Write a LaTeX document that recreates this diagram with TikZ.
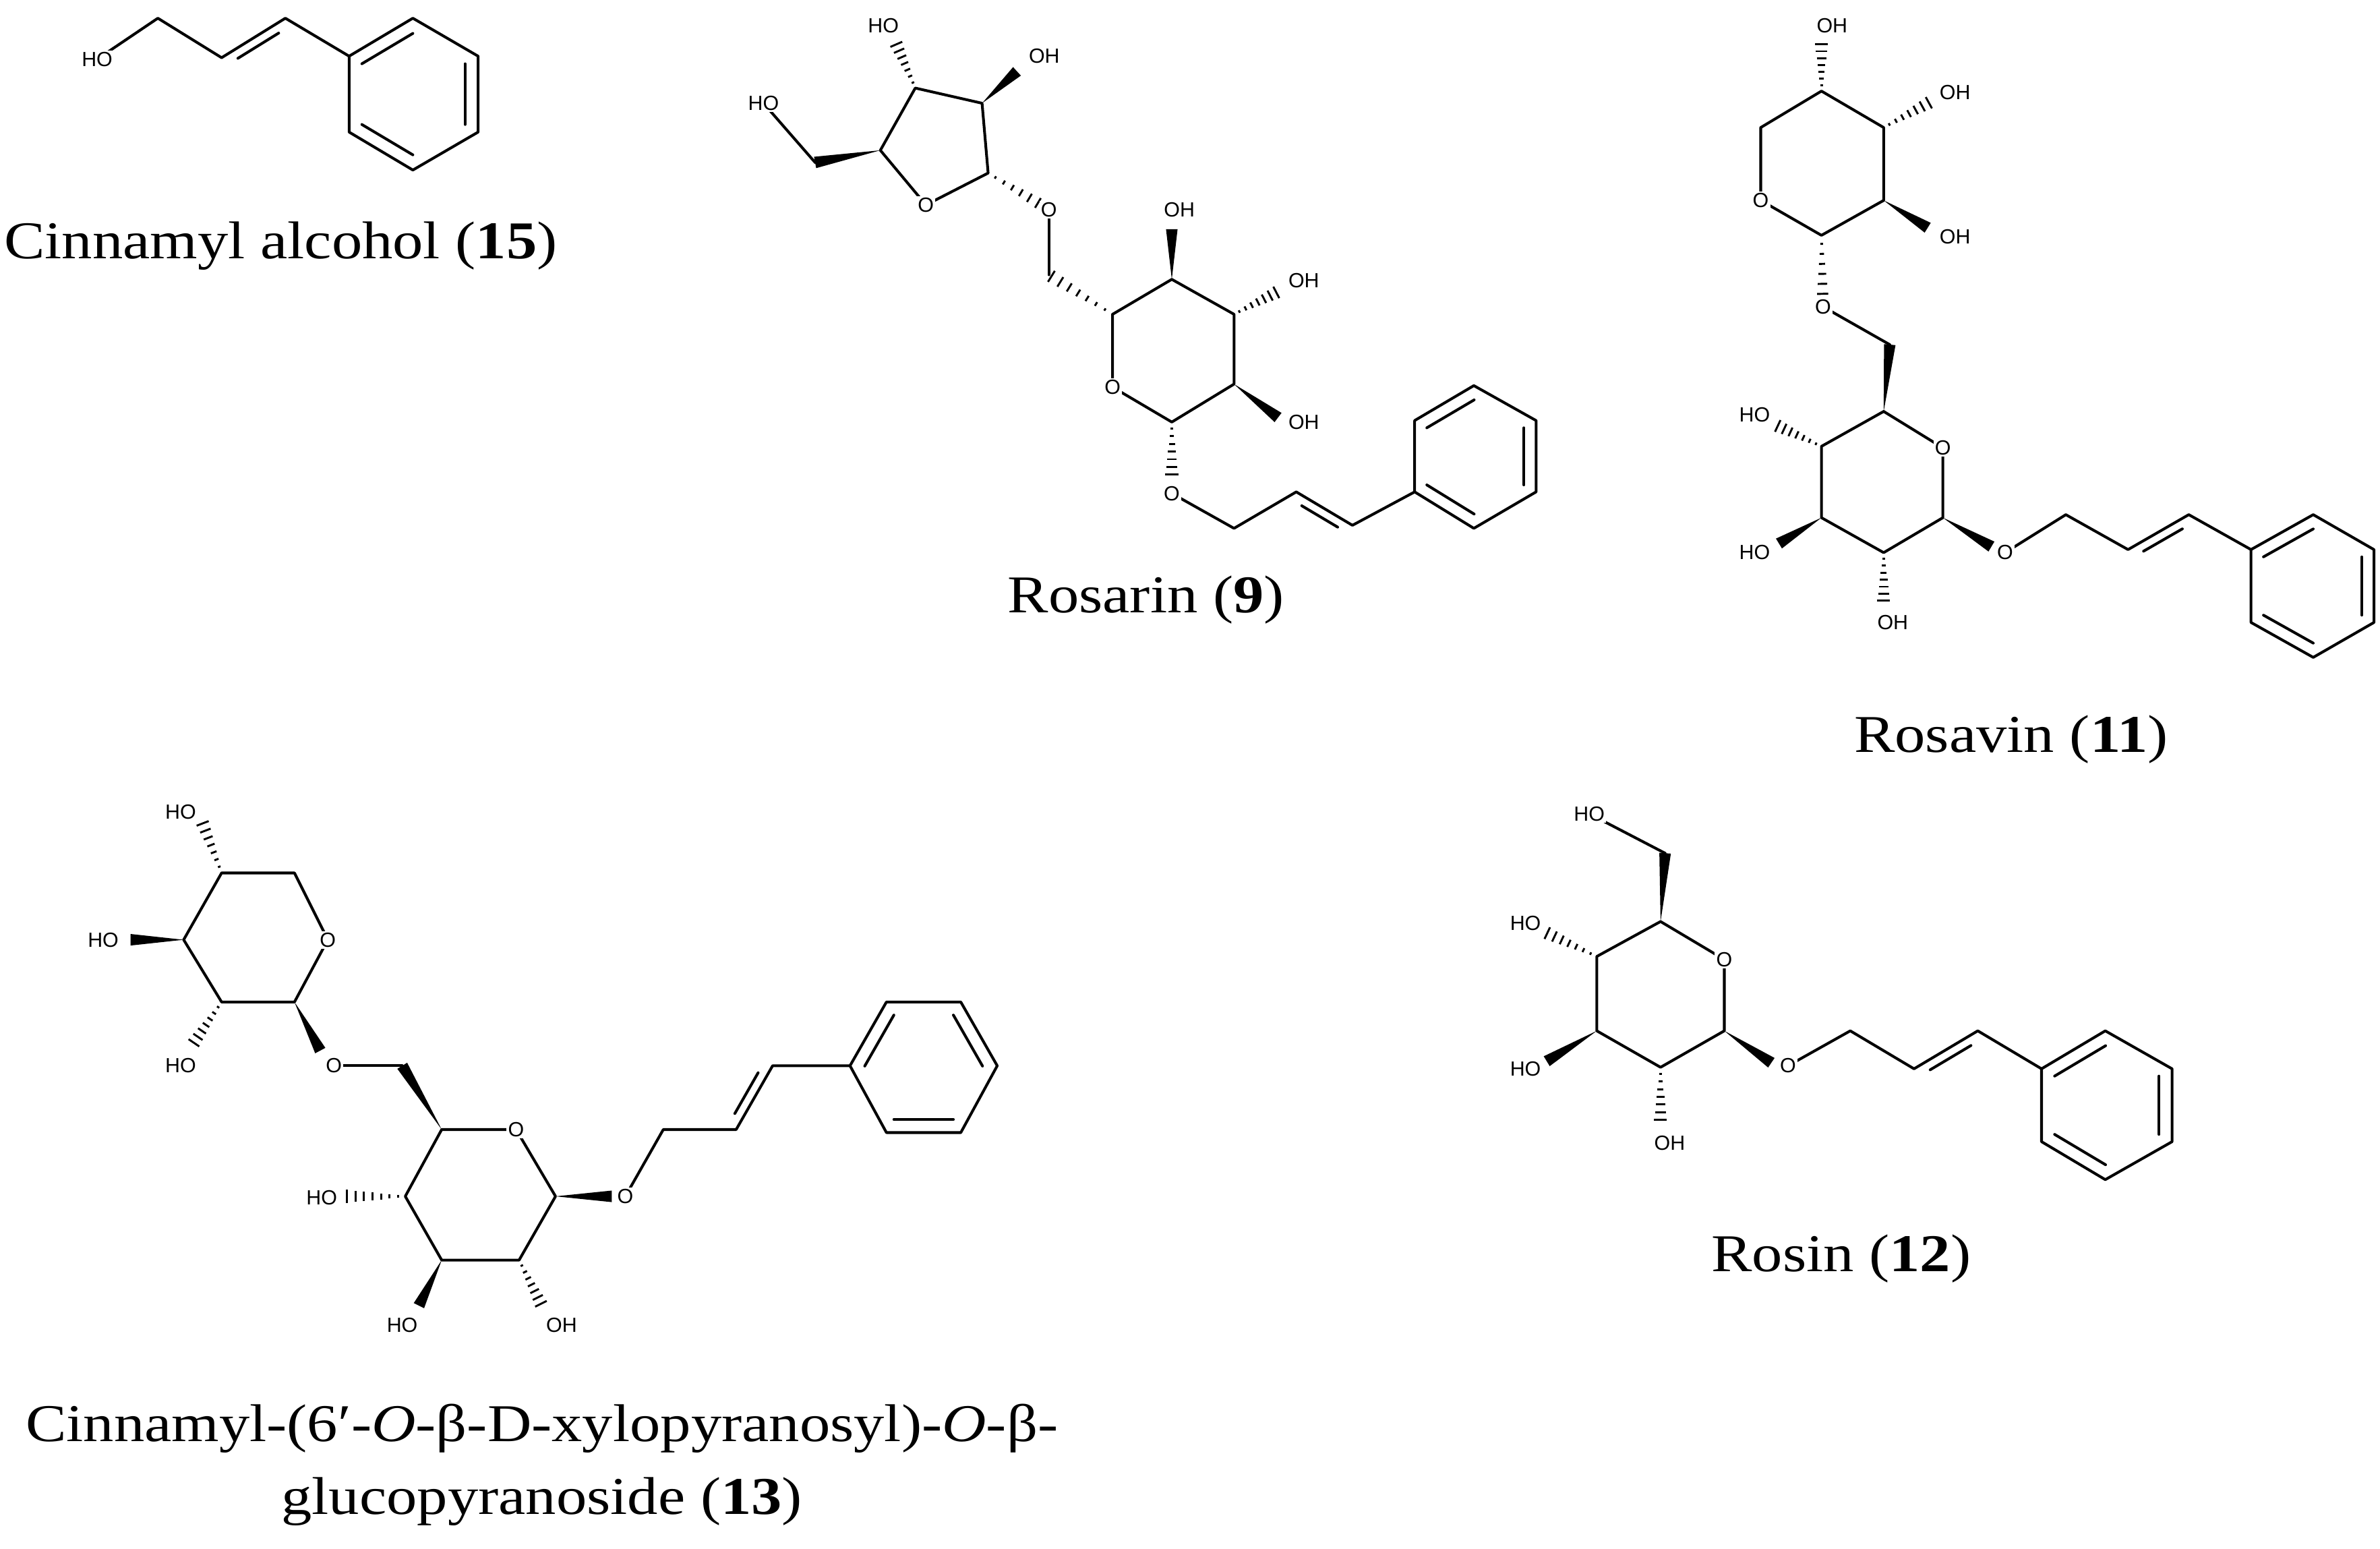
\documentclass[tikz,border=0pt]{standalone}
\usepackage{fontspec}
\setmainfont{Liberation Serif}
\newfontfamily\atomfont{Liberation Sans}
\newfontfamily\capfont[FakeStretch=1.15]{Liberation Serif}
\usetikzlibrary{calc}
\tikzset{
  bond/.style={line width=1.8pt,line cap=round,line join=round},
  atom/.style={font=\atomfont\fontsize{13.5}{13.5}\selectfont,fill=white,inner sep=1pt},
  caption/.style={font=\capfont\fontsize{35}{48}\selectfont,align=center}
}
\newcommand\bw[2]{\fill ($(#1)$) -- ($(#2)!3.8pt!90:(#1)$) -- ($(#2)!3.8pt!-90:(#1)$) -- cycle;}
\newcommand\hw[2]{\foreach \t in {0.12,0.26,0.40,0.54,0.68,0.82,0.96}{\pgfmathsetmacro\hl{4*\t+0.4}\draw[line width=1.3pt] ($(#1)!\t!(#2)!\hl pt!90:(#2)$) -- ($(#1)!\t!(#2)!\hl pt!-90:(#2)$);}}
\newcommand\rin[3]{\draw[bond] ($(#1)!0.2!(#3)$) -- ($(#2)!0.2!(#3)$);}
\newcommand\dbL[2]{\draw[bond] ($(#1)!0.18!(#2)!6pt!90:(#2)$) -- ($(#2)!0.18!(#1)!6pt!-90:(#1)$);}
\newcommand\dbR[2]{\draw[bond] ($(#1)!0.18!(#2)!6pt!-90:(#2)$) -- ($(#2)!0.18!(#1)!6pt!90:(#1)$);}
\begin{document}
\begin{tikzpicture}[x=1pt,y=-1pt]
\useasboundingbox (0,0) rectangle (1568,1020);
% ---------- Cinnamyl alcohol (15)
\coordinate (aO) at (64,39); \coordinate (aC1) at (104,12); \coordinate (aC2) at (146,38); \coordinate (aC3) at (188,12);
\coordinate (aR1) at (230,37); \coordinate (aR2) at (272,12); \coordinate (aR3) at (315,37);
\coordinate (aR4) at (315,87); \coordinate (aR5) at (272,112); \coordinate (aR6) at (230,87); \coordinate (aX) at (272,62);
\draw[bond] (aO) -- (aC1) -- (aC2) -- (aC3) -- (aR1);
\draw[bond] (aR1) -- (aR2) -- (aR3) -- (aR4) -- (aR5) -- (aR6) -- cycle;
\dbR{aC2}{aC3}
\rin{aR1}{aR2}{aX} \rin{aR3}{aR4}{aX} \rin{aR5}{aR6}{aX}
\node[atom] (aOl) at (aO) {HO};
\node[caption] (acap) at (185,162) {Cinnamyl alcohol (\textbf{15})};
% ---------- Rosarin (9)
\coordinate (fC3) at (603,58); \coordinate (fC2) at (647,68); \coordinate (fC1) at (651,114); \coordinate (fO) at (610,135);
\coordinate (fC4) at (580,99); \coordinate (fCH) at (537,107); \coordinate (fHO) at (503,68);
\coordinate (f3e) at (590,28); \coordinate (f3l) at (582,17); \coordinate (f2e) at (670,47); \coordinate (f2l) at (688,37);
\coordinate (bO6) at (691,138); \coordinate (bC6) at (691,181);
\coordinate (bC5) at (733,207); \coordinate (bC4) at (772,184); \coordinate (bC3) at (813,207);
\coordinate (bC2) at (813,253); \coordinate (bC1) at (772,278); \coordinate (bO) at (733,255);
\coordinate (b4e) at (772,151); \coordinate (b4l) at (777,138); \coordinate (b3e) at (842,192); \coordinate (b3l) at (859,185);
\coordinate (b2e) at (842,275); \coordinate (b2l) at (859,278); \coordinate (b1e) at (772,314); \coordinate (bOg) at (772,325);
\coordinate (bCa) at (813,348); \coordinate (bCb) at (854,324); \coordinate (bCc) at (891,346);
\coordinate (bR1) at (932,324); \coordinate (bR2) at (932,277); \coordinate (bR3) at (971,254);
\coordinate (bR4) at (1012,277); \coordinate (bR5) at (1012,324); \coordinate (bR6) at (971,348); \coordinate (bX) at (972,301);
\draw[bond] (fC4) -- (fC3) -- (fC2) -- (fC1) -- (fO) -- (fC4);
\draw[bond] (fCH) -- (fHO);
\bw{fC4}{fCH} \hw{fC3}{f3e} \bw{fC2}{f2e} \hw{fC1}{bO6}
\draw[bond] (bO6) -- (bC6);
\hw{bC5}{bC6}
\draw[bond] (bC5) -- (bC4) -- (bC3) -- (bC2) -- (bC1) -- (bO) -- (bC5);
\bw{bC4}{b4e} \hw{bC3}{b3e} \bw{bC2}{b2e} \hw{bC1}{b1e}
\draw[bond] (bOg) -- (bCa) -- (bCb) -- (bCc) -- (bR1);
\draw[bond] (bR1) -- (bR2) -- (bR3) -- (bR4) -- (bR5) -- (bR6) -- cycle;
\dbR{bCb}{bCc}
\rin{bR2}{bR3}{bX} \rin{bR4}{bR5}{bX} \rin{bR6}{bR1}{bX}
\node[atom] at (fHO) {HO}; \node[atom] at (f3l) {HO}; \node[atom] at (f2l) {OH}; \node[atom] at (fO) {O};
\node[atom] at (bO6) {O}; \node[atom] at (bO) {O}; \node[atom] at (b4l) {OH}; \node[atom] at (b3l) {OH};
\node[atom] at (b2l) {OH}; \node[atom] at (bOg) {O};
\node[caption] (bcap) at (755,395) {Rosarin (\textbf{9})};
% ---------- Rosavin (11)
\coordinate (xC4) at (1200,60); \coordinate (xC3) at (1241,84); \coordinate (xC2) at (1241,132); \coordinate (xC1) at (1200,155);
\coordinate (xO) at (1160,132); \coordinate (xC5) at (1160,84);
\coordinate (x4e) at (1200,28); \coordinate (x4l) at (1207,17); \coordinate (x3e) at (1272,67); \coordinate (x3l) at (1288,61);
\coordinate (x2e) at (1270,150); \coordinate (x2l) at (1288,156); \coordinate (cO6) at (1201,202); \coordinate (cC6) at (1245,227);
\coordinate (cC5) at (1241,271); \coordinate (cO) at (1280,295); \coordinate (cC1) at (1280,341); \coordinate (cC2) at (1241,364);
\coordinate (cC3) at (1200,341); \coordinate (cC4) at (1200,294);
\coordinate (c4e) at (1170,280); \coordinate (c4l) at (1156,273); \coordinate (c3e) at (1172,358); \coordinate (c3l) at (1156,364);
\coordinate (c2e) at (1241,397); \coordinate (c2l) at (1247,410); \coordinate (c1e) at (1312,360); \coordinate (cOg) at (1321,364);
\coordinate (cCa) at (1361,339); \coordinate (cCb) at (1402,362); \coordinate (cCc) at (1442,339);
\coordinate (cR1) at (1483,362); \coordinate (cR2) at (1524,339); \coordinate (cR3) at (1564,362);
\coordinate (cR4) at (1564,410); \coordinate (cR5) at (1524,433); \coordinate (cR6) at (1483,410); \coordinate (cX) at (1524,386);
\draw[bond] (xC5) -- (xC4) -- (xC3) -- (xC2) -- (xC1) -- (xO) -- (xC5);
\hw{xC4}{x4e} \hw{xC3}{x3e} \bw{xC2}{x2e} \hw{xC1}{cO6}
\draw[bond] (cO6) -- (cC6);
\bw{cC5}{cC6}
\draw[bond] (cC5) -- (cO) -- (cC1) -- (cC2) -- (cC3) -- (cC4) -- (cC5);
\hw{cC4}{c4e} \bw{cC3}{c3e} \hw{cC2}{c2e} \bw{cC1}{c1e}
\draw[bond] (cOg) -- (cCa) -- (cCb) -- (cCc) -- (cR1);
\draw[bond] (cR1) -- (cR2) -- (cR3) -- (cR4) -- (cR5) -- (cR6) -- cycle;
\dbR{cCb}{cCc}
\rin{cR1}{cR2}{cX} \rin{cR3}{cR4}{cX} \rin{cR5}{cR6}{cX}
\node[atom] at (x4l) {OH}; \node[atom] at (x3l) {OH}; \node[atom] at (x2l) {OH}; \node[atom] at (xO) {O};
\node[atom] at (cO6) {O}; \node[atom] at (cO) {O}; \node[atom] at (c4l) {HO}; \node[atom] at (c3l) {HO};
\node[atom] at (c2l) {OH}; \node[atom] at (cOg) {O};
\node[caption] (ccap) at (1325,487) {Rosavin (\textbf{11})};
% ---------- Compound 13
\coordinate (yC4) at (146,575); \coordinate (yC5) at (194,575); \coordinate (yO) at (216,619); \coordinate (yC1) at (194,660);
\coordinate (yC2) at (146,660); \coordinate (yC3) at (121,619);
\coordinate (y4e) at (133,541); \coordinate (y4l) at (119,535); \coordinate (y3e) at (86,619); \coordinate (y3l) at (68,619);
\coordinate (y2e) at (127,688); \coordinate (y2l) at (119,702); \coordinate (y1e) at (211,692); \coordinate (dO6) at (220,702);
\coordinate (dC6) at (265,702);
\coordinate (dC5) at (291,744); \coordinate (dO) at (340,744); \coordinate (dC1) at (366,788); \coordinate (dC2) at (342,830);
\coordinate (dC3) at (291,830); \coordinate (dC4) at (267,788);
\coordinate (d4e) at (227,788); \coordinate (d4l) at (212,789); \coordinate (d3e) at (276,860); \coordinate (d3l) at (265,873);
\coordinate (d2e) at (357,860); \coordinate (d2l) at (370,873); \coordinate (d1e) at (403,788); \coordinate (dOg) at (412,788);
\coordinate (dCa) at (437,744); \coordinate (dCb) at (485,744); \coordinate (dCc) at (509,702);
\coordinate (dR1) at (560,702); \coordinate (dR2) at (584,660); \coordinate (dR3) at (633,660);
\coordinate (dR4) at (657,702); \coordinate (dR5) at (633,746); \coordinate (dR6) at (584,746); \coordinate (dX) at (608.5,703);
\draw[bond] (yC4) -- (yC5) -- (yO) -- (yC1) -- (yC2) -- (yC3) -- (yC4);
\hw{yC4}{y4e} \bw{yC3}{y3e} \hw{yC2}{y2e} \bw{yC1}{y1e}
\draw[bond] (dO6) -- (dC6);
\bw{dC5}{dC6}
\draw[bond] (dC5) -- (dO) -- (dC1) -- (dC2) -- (dC3) -- (dC4) -- (dC5);
\hw{dC4}{d4e} \bw{dC3}{d3e} \hw{dC2}{d2e} \bw{dC1}{d1e}
\draw[bond] (dOg) -- (dCa) -- (dCb) -- (dCc) -- (dR1);
\draw[bond] (dR1) -- (dR2) -- (dR3) -- (dR4) -- (dR5) -- (dR6) -- cycle;
\dbL{dCb}{dCc}
\rin{dR1}{dR2}{dX} \rin{dR3}{dR4}{dX} \rin{dR5}{dR6}{dX}
\node[atom] at (y4l) {HO}; \node[atom] at (y3l) {HO}; \node[atom] at (y2l) {HO}; \node[atom] at (yO) {O};
\node[atom] at (dO6) {O}; \node[atom] at (dO) {O}; \node[atom] at (d4l) {HO}; \node[atom] at (d3l) {HO};
\node[atom] at (d2l) {OH}; \node[atom] at (dOg) {O};
\node[caption] (dcap) at (357,965) {Cinnamyl-(6′-\textit{O}-β-D-xylopyranosyl)-\textit{O}-β-\\glucopyranoside (\textbf{13})};
% ---------- Rosin (12)
\coordinate (eCH) at (1097,562); \coordinate (eHO) at (1047,536);
\coordinate (eC5) at (1094,607); \coordinate (eO) at (1136,632); \coordinate (eC1) at (1136,679); \coordinate (eC2) at (1094,703);
\coordinate (eC3) at (1052,679); \coordinate (eC4) at (1052,630);
\coordinate (e4e) at (1018,614); \coordinate (e4l) at (1005,608); \coordinate (e3e) at (1019,699); \coordinate (e3l) at (1005,704);
\coordinate (e2e) at (1094,739); \coordinate (e2l) at (1100,753); \coordinate (e1e) at (1167,700); \coordinate (eOg) at (1178,702);
\coordinate (eCa) at (1219,679); \coordinate (eCb) at (1261,704); \coordinate (eCc) at (1303,679);
\coordinate (eR1) at (1345,704); \coordinate (eR2) at (1387,679); \coordinate (eR3) at (1431,704);
\coordinate (eR4) at (1431,752); \coordinate (eR5) at (1387,777); \coordinate (eR6) at (1345,752); \coordinate (eX) at (1388,728);
\draw[bond] (eCH) -- (eHO);
\bw{eC5}{eCH}
\draw[bond] (eC5) -- (eO) -- (eC1) -- (eC2) -- (eC3) -- (eC4) -- (eC5);
\hw{eC4}{e4e} \bw{eC3}{e3e} \hw{eC2}{e2e} \bw{eC1}{e1e}
\draw[bond] (eOg) -- (eCa) -- (eCb) -- (eCc) -- (eR1);
\draw[bond] (eR1) -- (eR2) -- (eR3) -- (eR4) -- (eR5) -- (eR6) -- cycle;
\dbR{eCb}{eCc}
\rin{eR1}{eR2}{eX} \rin{eR3}{eR4}{eX} \rin{eR5}{eR6}{eX}
\node[atom] at (eHO) {HO}; \node[atom] at (e4l) {HO}; \node[atom] at (e3l) {HO}; \node[atom] at (eO) {O};
\node[atom] at (e2l) {OH}; \node[atom] at (eOg) {O};
\node[caption] (ecap) at (1213,829) {Rosin (\textbf{12})};
\end{tikzpicture}
\end{document}
